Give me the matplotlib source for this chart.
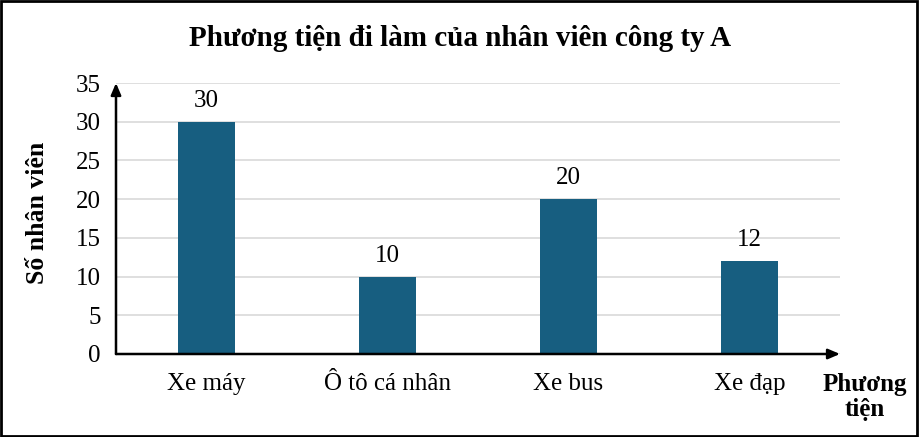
import matplotlib
matplotlib.use("Agg")
import matplotlib.pyplot as plt
from matplotlib.patches import Rectangle

categories = ["Xe máy", "Ô tô cá nhân", "Xe bus", "Xe đạp"]
values = [30, 10, 20, 12]
yticks = [0, 5, 10, 15, 20, 25, 30, 35]

plt.rcParams['font.family'] = ['Liberation Serif', 'DejaVu Serif']

W, H = 919, 437
fig = plt.figure(figsize=(W/100, H/100), dpi=100)
ax = fig.add_axes([116/W, 1-354/H, (840-116)/W, (354-83)/H])

x = list(range(len(categories)))
ax.bar(x, values, width=0.31, color="#175E80", zorder=3)
for xi, v in zip(x, values):
    ax.annotate(str(v), (xi, v), xytext=(0, 7), textcoords="offset points",
                ha="center", va="bottom", fontsize=18)

ax.set_xlim(-0.5, 3.5)
ax.set_ylim(0, 35)
ax.set_yticks(yticks)
ax.set_xticks(x)
ax.set_xticklabels(categories, fontsize=18)
ax.tick_params(axis='y', length=0, pad=11, labelsize=18)
ax.tick_params(axis='x', length=0, pad=14)
ax.grid(axis='y', color="#d9d9d9", linewidth=1.2, zorder=0)
for s in ax.spines.values():
    s.set_visible(False)

# axis arrows
ax.annotate("", xy=(0, 1.0), xycoords="axes fraction", xytext=(0, 0),
            arrowprops=dict(arrowstyle="-|>,head_length=0.7,head_width=0.3",
                            color="black", lw=1.8, shrinkA=0, shrinkB=0))
ax.annotate("", xy=(1.0, 0), xycoords="axes fraction", xytext=(0, 0),
            arrowprops=dict(arrowstyle="-|>,head_length=0.7,head_width=0.3",
                            color="black", lw=1.8, shrinkA=0, shrinkB=0))

fig.text(460/W, 1-38/H, "Phương tiện đi làm của nhân viên công ty A",
         ha="center", va="center", fontsize=21, fontweight="bold")
fig.text(38/W, 1-213/H, "Số nhân viên", rotation=90, ha="center", va="center",
         fontsize=18.5, fontweight="bold")
fig.text(865/W, 1-397/H, "Phương\ntiện", ha="center", va="center",
         fontsize=18, fontweight="bold", linespacing=1.1)

fig.patches.append(Rectangle((0.001, 0.002), 0.997, 0.995, transform=fig.transFigure,
                             fill=False, edgecolor="black", linewidth=2))

fig.savefig("out.png", dpi=100)
